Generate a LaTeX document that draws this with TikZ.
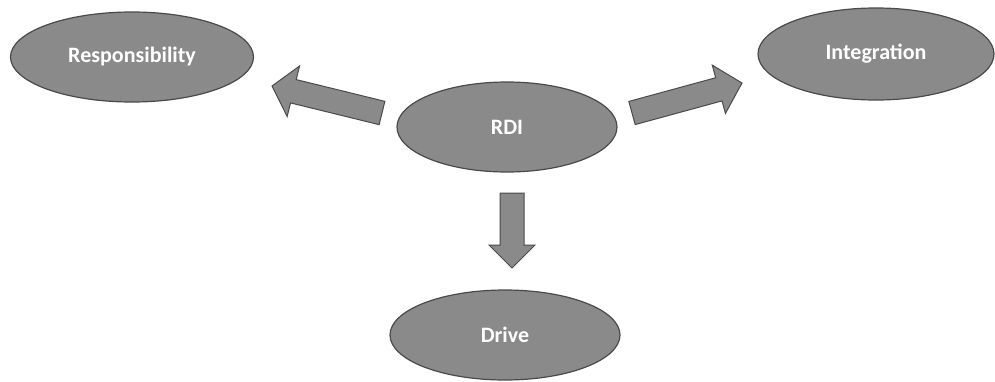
\documentclass[tikz,border=0pt]{standalone}
\usepackage{fontspec}
\setmainfont{Carlito}
\usetikzlibrary{shapes.geometric,calc}
\definecolor{blobfill}{HTML}{8A8A8A}
\definecolor{blobline}{HTML}{4A4A4A}
\tikzset{
  blob/.style={ellipse, fill=blobfill, draw=blobline, line width=1.2pt, inner sep=0pt,
    text=white, font=\fontsize{22}{26}\selectfont\bfseries},
  blockarrow/.style={fill=blobfill, draw=blobline, line width=1pt, line join=miter}
}
\newcommand{\blkarrow}[5]{% tail, tip, head length, shaft half, head half
  \path ($(#2)!#3!(#1)$) coordinate (hb);
  \draw[blockarrow] ($(#1)!#4!90:(#2)$) -- ($(hb)!#4!-90:(#1)$) -- ($(hb)!#5!-90:(#1)$) -- (#2)
    -- ($(hb)!#5!90:(#1)$) -- ($(hb)!#4!90:(#1)$) -- ($(#1)!#4!-90:(#2)$) -- cycle;
}
\begin{document}
\begin{tikzpicture}[x=1pt,y=-1pt]
\useasboundingbox (0,0) rectangle (995,381);
\node[blob, minimum width=243pt, minimum height=90pt] (resp) at (132,57) {Responsibility};
\node[blob, minimum width=220pt, minimum height=90pt] (rdi) at (507,127) {RDI};
\node[blob, minimum width=236pt, minimum height=92pt] (integ) at (876,54) {Integration};
\node[blob, minimum width=230pt, minimum height=90pt] (drive) at (505,335) {Drive};
\coordinate (lt) at (382,113);
\coordinate (lh) at (272,86);
\coordinate (rt) at (632,113);
\coordinate (rh) at (742,83);
\coordinate (dt) at (512,193);
\coordinate (dh) at (512,268);
\blkarrow{lt}{lh}{22pt}{12pt}{26pt}
\blkarrow{rt}{rh}{24pt}{12pt}{25pt}
\blkarrow{dt}{dh}{23pt}{12pt}{23pt}
\end{tikzpicture}
\end{document}
